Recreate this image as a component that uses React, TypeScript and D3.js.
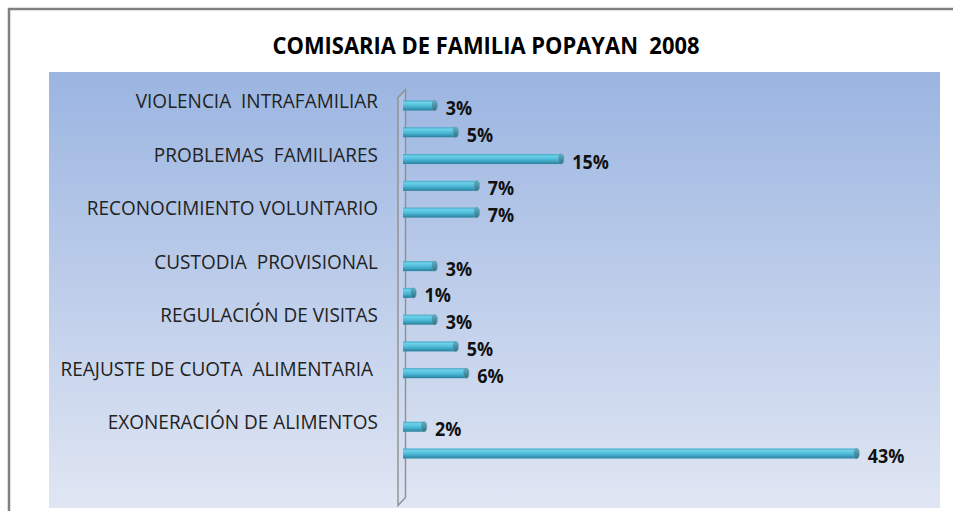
import React from 'react';
import * as d3 from 'd3';

// categories on the y axis (Excel only shows every other label)
const categories = [
  'VIOLENCIA  INTRAFAMILIAR', '',
  'PROBLEMAS  FAMILIARES', '',
  'RECONOCIMIENTO VOLUNTARIO', '',
  'CUSTODIA  PROVISIONAL', '',
  'REGULACIÓN DE VISITAS', '',
  'REAJUSTE DE CUOTA  ALIMENTARIA ', '',
  'EXONERACIÓN DE ALIMENTOS', '',
];
// percentages, null = no bar
const values: (number | null)[] = [3, 5, 15, 7, 7, null, 3, 1, 3, 5, 6, null, 2, 43];
const title = 'COMISARIA DE FAMILIA POPAYAN  2008';

const W = 953;
const H = 511;
const font = '"Open Sans", "Noto Sans", sans-serif';

export default function App() {
  const idx = categories.map((_, i) => i);

  const y = d3.scalePoint<number>().domain(idx).range([105.5, 453.5]);
  const x = d3.scaleLinear().domain([0, 50]).range([403, 930.5]);

  const barH = 10;
  const x0 = x(0);
  const yTop = y(0)! - 16;
  const yBot = y(13)! + 52;
  const wallW = 7.5;
  const wall = [
    [x0 - 5, yTop + 8],
    [x0 - 5 + wallW, yTop],
    [x0 - 5 + wallW, yBot - 8],
    [x0 - 5, yBot],
  ];

  return (
    <svg width={W} height={H} style={{ position: 'absolute', left: 0, top: 0, display: 'block' }}>
      <defs>
        <linearGradient id="plotBg" x1="0" y1="0" x2="0" y2="1">
          <stop offset="0" stopColor="#9bb5e1" />
          <stop offset="1" stopColor="#e0e6f3" />
        </linearGradient>
        <linearGradient id="barFill" x1="0" y1="0" x2="0" y2="1">
          <stop offset="0" stopColor="#3fa8c6" />
          <stop offset="0.2" stopColor="#6fd0e8" />
          <stop offset="0.55" stopColor="#4bbad8" />
          <stop offset="1" stopColor="#2a809c" />
        </linearGradient>
        <linearGradient id="capFill" x1="0" y1="0" x2="0" y2="1">
          <stop offset="0" stopColor="#5bb3c9" />
          <stop offset="1" stopColor="#2c7389" />
        </linearGradient>
      </defs>

      {/* chart area frame */}
      <rect x={9} y={9} width={W + 20} height={H + 20} fill="#ffffff" stroke="#808080" strokeWidth={2.5} />
      <rect x={49} y={72} width={891} height={436} fill="url(#plotBg)" />

      <text
        x={486}
        y={54}
        textAnchor="middle"
        fontFamily={font}
        fontWeight="bold"
        fontSize={24}
        textLength={427}
        lengthAdjust="spacingAndGlyphs"
        style={{ whiteSpace: 'pre' }}
        fill="#000"
      >
        {title}
      </text>

      {/* 3D back wall of the category axis */}
      <polygon
        points={wall.map((p) => p.join(',')).join(' ')}
        fill="#d4deee"
        fillOpacity={0.25}
        stroke="#8f8f8f"
        strokeWidth={1.4}
      />

      {categories.map((c, i) =>
        c ? (
          <text
            key={'c' + i}
            x={0}
            y={0}
            transform={`translate(378,${y(i)! + 2.5}) scale(0.95,1)`}
            textAnchor="end"
            fontFamily={font}
            fontSize={20}
            fill="#222"
            style={{ whiteSpace: 'pre' }}
          >
            {c}
          </text>
        ) : null
      )}

      {values.map((v, i) => {
        if (v == null) return null;
        const cy = y(i)!;
        const x1 = x(v);
        return (
          <g key={'b' + i}>
            <rect x={x0} y={cy - barH / 2} width={x1 - x0} height={barH} fill="url(#barFill)" />
            <ellipse cx={x1} cy={cy} rx={2.6} ry={barH / 2} fill="url(#capFill)" stroke="#6b8e9a" strokeWidth={0.6} />
            <text
              transform={`translate(${x1 + 11},${cy + 9.5}) scale(0.92,1)`}
              fontFamily={font}
              fontWeight="bold"
              fontSize={19.5}
              fill="#111"
            >
              {v + '%'}
            </text>
          </g>
        );
      })}
    </svg>
  );
}
